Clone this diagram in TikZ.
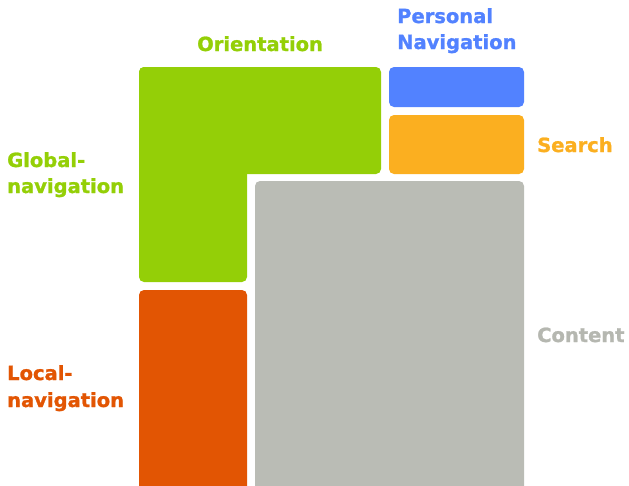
\documentclass[tikz,border=0pt]{standalone}
\usepackage{fontspec}
\setmainfont{DejaVu Sans}
\newfontfamily\heavyfont{DejaVu Sans Bold}[FakeBold=1.2]
\definecolor{cgreen}{HTML}{94CF07}
\definecolor{cblue}{HTML}{5282FF}
\definecolor{cyellow}{HTML}{FBAF20}
\definecolor{corange}{HTML}{E25503}
\definecolor{cgray}{HTML}{BABCB5}
\definecolor{cgraytext}{HTML}{B5B7B0}
\begin{document}
\begin{tikzpicture}[x=1pt,y=-1pt,
  lbl/.style={anchor=base west,inner sep=0pt,font=\fontsize{19.5}{24}\heavyfont},
  box/.style={rounded corners=5pt}]
\useasboundingbox (0,0) rectangle (629,485);
\clip (0,0) rectangle (629,485);
% Global navigation / orientation (L shape)
\fill[cgreen,box] (139,67) rectangle (381,174);
\fill[cgreen,box] (139,67) rectangle (247,282);
% Personal navigation
\fill[cblue,box] (389,67) rectangle (524,107);
% Search
\fill[cyellow,box] (389,115) rectangle (524,174);
% Local navigation
\fill[corange,box] (139,290) rectangle (247,495);
% Content
\fill[cgray,box] (255,181) rectangle (524,495);
% labels
\node[lbl,text=cgreen] (orient) at (197,51) {Orientation};
\node[lbl,text=cblue] (pers1) at (397,23) {Personal};
\node[lbl,text=cblue] (pers2) at (397,49) {Navigation};
\node[lbl,text=cyellow] (search) at (537,152) {Search};
\node[lbl,text=cgraytext] (content) at (537,342) {Content};
\node[lbl,text=cgreen] (glob1) at (7,167) {Global-};
\node[lbl,text=cgreen] (glob2) at (7,193) {navigation};
\node[lbl,text=corange] (loc1) at (7,380) {Local-};
\node[lbl,text=corange] (loc2) at (7,407) {navigation};
\end{tikzpicture}
\end{document}
